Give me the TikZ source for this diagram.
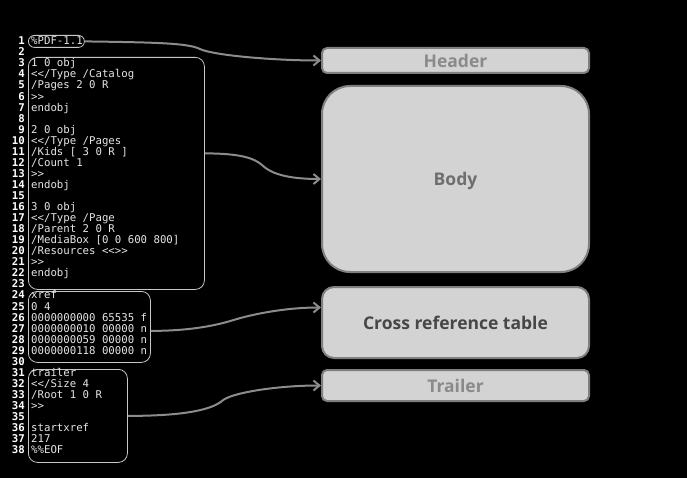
\documentclass[tikz,border=0pt]{standalone}
\usepackage{fontspec}
\setmonofont{DejaVu Sans Mono}
\newfontfamily\labfont{Open Sans}
\usetikzlibrary{arrows.meta}
\definecolor{boxfill}{HTML}{D3D3D3}
\definecolor{boxline}{HTML}{7F7F7F}
\definecolor{codeline}{HTML}{C8C8C8}
\definecolor{codetext}{HTML}{E6E6E6}
\definecolor{arrowcol}{HTML}{8C8C8C}
\definecolor{lightlab}{HTML}{8A8A8A}
\definecolor{midlab}{HTML}{6E6E6E}
\definecolor{darklab}{HTML}{474747}
\tikzset{
  partbox/.style={draw=boxline, line width=2pt, fill=boxfill, inner sep=0pt,
    minimum width=267pt, font=\labfont\bfseries\fontsize{17.5}{20}\selectfont},
  codebox/.style={draw=codeline, line width=0.8pt, inner sep=0pt, rounded corners=9pt},
  lnum/.style={anchor=base east, inner sep=0pt, text=white,
    font=\ttfamily\bfseries\fontsize{10.7}{11}\selectfont},
  code/.style={anchor=base west, inner sep=0pt, text=codetext,
    font=\ttfamily\fontsize{10.7}{11}\selectfont},
  link/.style={draw=arrowcol, line width=2pt, -{Straight Barb[length=6pt,width=10pt]}}
}
\newcommand\numline[1]{\pgfmathsetmacro\yy{44.8+(#1-1)*11.05}%
  \node[lnum] (n#1) at (25,\yy) {#1};}
\newcommand\cl[2]{\numline{#1}\node[code] (c#1) at (31,\yy) {#2};}
\begin{document}
\begin{tikzpicture}[x=1pt,y=-1pt]
\fill[black] (0,0) rectangle (687,478);
\useasboundingbox (0,0) rectangle (687,478);

% right-hand parts
\node[partbox, minimum height=25pt, rounded corners=5pt, text=lightlab] (hdr) at (455.5,60.5) {Header};
\node[partbox, minimum height=186pt, rounded corners=28pt, text=midlab, text height=13.3pt, text depth=-3pt] (body) at (455.5,179) {Body};
\node[partbox, minimum height=71pt, rounded corners=12pt, text=darklab] (xr) at (455.5,322.5) {Cross reference table};
\node[partbox, minimum height=31pt, rounded corners=5pt, text=lightlab] (tr) at (455.5,385.5) {Trailer};

% code boxes
\node[codebox, rounded corners=6pt, anchor=north west, minimum width=56pt, minimum height=12pt] (hc) at (28,35) {};
\node[codebox, anchor=north west, minimum width=176pt, minimum height=232pt] (bc) at (28,57) {};
\node[codebox, anchor=north west, minimum width=122pt, minimum height=71pt] (xc) at (28,291) {};
\node[codebox, anchor=north west, minimum width=99pt, minimum height=93pt] (tc) at (28,369) {};

% listing
\cl{1}{\%PDF-1.1}
\numline{2}
\cl{3}{1 0 obj}
\cl{4}{<</Type /Catalog}
\cl{5}{/Pages 2 0 R}
\cl{6}{>>}
\cl{7}{endobj}
\numline{8}
\cl{9}{2 0 obj}
\cl{10}{<</Type /Pages}
\cl{11}{/Kids [ 3 0 R ]}
\cl{12}{/Count 1}
\cl{13}{>>}
\cl{14}{endobj}
\numline{15}
\cl{16}{3 0 obj}
\cl{17}{<</Type /Page}
\cl{18}{/Parent 2 0 R}
\cl{19}{/MediaBox [0 0 600 800]}
\cl{20}{/Resources <<>>}
\cl{21}{>>}
\cl{22}{endobj}
\numline{23}
\cl{24}{xref}
\cl{25}{0 4}
\cl{26}{0000000000 65535 f}
\cl{27}{0000000010 00000 n}
\cl{28}{0000000059 00000 n}
\cl{29}{0000000118 00000 n}
\numline{30}
\cl{31}{trailer}
\cl{32}{<</Size 4}
\cl{33}{/Root 1 0 R}
\cl{34}{>>}
\numline{35}
\cl{36}{startxref}
\cl{37}{217}
\cl{38}{\%\%EOF}

% connectors
\draw[link] (hc.east) .. controls +(70,1) and +(-12,-6) .. (200,49)
   .. controls +(12,6) and +(-50,0) .. (hdr.west);
\draw[link] ([yshift=20pt]bc.east) .. controls +(35,0) and +(-8,-7) .. (262,165)
   .. controls +(8,8) and +(-35,0) .. (body.west);
\draw[link] ([yshift=-4pt]xc.east) .. controls +(50,0) and +(-10,3) .. (237,319)
   .. controls +(10,-3) and +(-40,0) .. ([yshift=15pt]xr.west);
\draw[link] (tc.east) .. controls +(60,0) and +(-10,8) .. (222,401)
   .. controls +(8,-8) and +(-45,0) .. (tr.west);
\end{tikzpicture}
\end{document}
